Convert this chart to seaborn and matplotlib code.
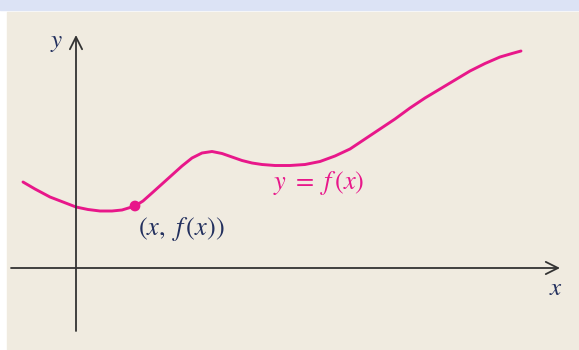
import matplotlib
matplotlib.use("Agg")
import matplotlib.pyplot as plt
from matplotlib.patches import Rectangle
import seaborn as sns
import pandas as pd

# curve y = f(x) (axis units)
curve_x = [-1.06, -0.82, -0.52, -0.26, 0.0, 0.24, 0.48, 0.72, 0.92, 1.18,
           1.34, 1.52, 1.72, 1.92, 2.12, 2.32, 2.52, 2.72, 2.92, 3.12,
           3.32, 3.52, 3.72, 3.98, 4.28, 4.58, 4.88, 5.18, 5.48, 5.78,
           6.08, 6.38, 6.68, 6.98, 7.28, 7.58, 7.88, 8.18, 8.48, 8.72, 8.90]
curve_y = [1.72, 1.58, 1.42, 1.32, 1.22, 1.17, 1.14, 1.14, 1.16, 1.24,
           1.34, 1.50, 1.68, 1.86, 2.04, 2.20, 2.30, 2.33, 2.29, 2.22,
           2.15, 2.10, 2.07, 2.05, 2.05, 2.07, 2.13, 2.24, 2.38, 2.58,
           2.78, 2.98, 3.20, 3.40, 3.58, 3.76, 3.94, 4.09, 4.22, 4.29, 4.34]

# the marked point (x, f(x))
point_x = [1.18]
point_y = [1.24]

curve = pd.DataFrame({"x": curve_x, "y": curve_y})
point = pd.DataFrame({"x": point_x, "y": point_y})

sns.set_style("white")
plt.rcParams["mathtext.fontset"] = "stix"

magenta = "#e8178a"
navy = "#23305e"
axis_col = "#333333"

fig = plt.figure(figsize=(5.79, 3.5), dpi=100)
fig.patch.set_facecolor("white")
# page frame: blue band on top, beige panel
fig.add_artist(Rectangle((0, 1 - 10 / 350), 1, 10 / 350, transform=fig.transFigure,
                         color="#dce3f5", zorder=0))
fig.add_artist(Rectangle((7 / 579, 0), 1, 1 - 12 / 350, transform=fig.transFigure,
                         color="#f0ebe0", zorder=0))

ax = fig.add_axes([0, 0, 1, 1])
ax.set_facecolor("none")
ax.set_xlim(-1.52, 10.06)
ax.set_ylim(-1.64, 5.36)
ax.axis("off")

# coordinate axes with open arrow heads
arrow = dict(arrowstyle="->", color=axis_col, lw=1.3, mutation_scale=22,
             shrinkA=0, shrinkB=0)
ax.annotate("", xy=(9.68, 0), xytext=(-1.30, 0), arrowprops=arrow)
ax.annotate("", xy=(0, 4.66), xytext=(0, -1.26), arrowprops=arrow)

line_kw = dict(solid_capstyle="round", solid_joinstyle="round")
sns.lineplot(data=curve, x="x", y="y", sort=False, color=magenta, lw=2.1,
             ax=ax, **line_kw)
sns.scatterplot(data=point, x="x", y="y", color=magenta, s=60, edgecolor="none",
                ax=ax, zorder=5)

ax.text(-0.38, 4.52, "$y$", fontsize=18, color=navy, ha="center", va="center")
ax.text(9.60, -0.40, "$x$", fontsize=18, color=navy, ha="center", va="center")
ax.text(2.10, 0.78, "$(x,\\ f\\,(x))$", fontsize=19, color=navy,
        ha="center", va="center")
ax.text(4.86, 1.70, "$y\\ =\\ f\\,(x)$", fontsize=19, color=magenta,
        ha="center", va="center")

fig.savefig("out.png", dpi=100)
